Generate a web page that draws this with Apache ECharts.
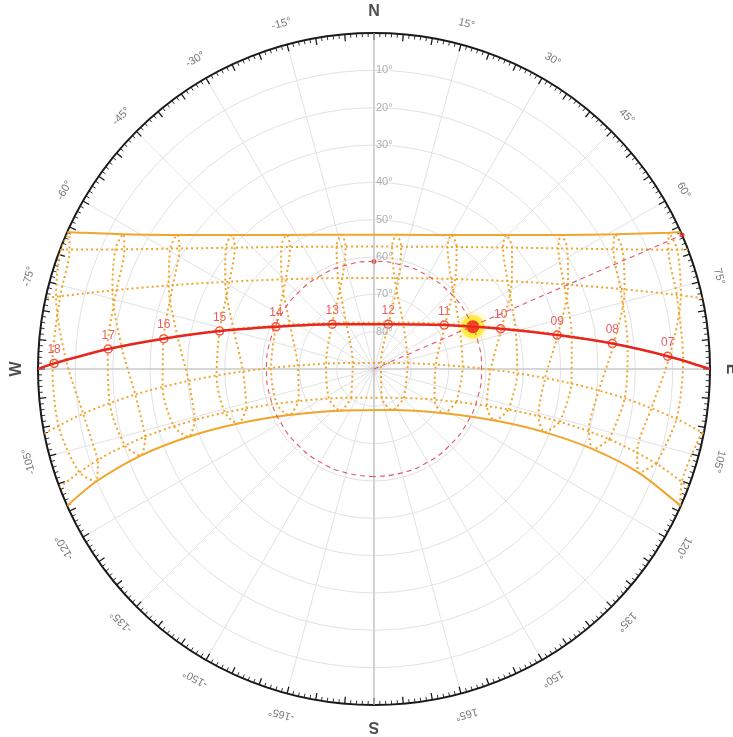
<!DOCTYPE html>
<html><head><meta charset="utf-8">
<script src="https://cdn.jsdelivr.net/npm/echarts@6/dist/echarts.min.js"></script>
<style>html,body{margin:0;padding:0;background:#fff}#c{width:733px;height:737px}</style>
</head><body><div id="c"></div>
<script>
// Sun positions [altitude°, azimuth°] at clock hours 06..18 on the 21st of each month (null = below horizon)
const hourKeys = ['06','07','08','09','10','11','12','13','14','15','16','17','18'];
const janPos = [null,[10.22,108.52],[24.18,106.64],[38.25,105.87],[52.31,106.79],[66.18,111.68],[78.82,133.94],[80.20,-141.71],[68.07,-113.07],[54.28,-107.14],[40.22,-105.87],[26.15,-106.46],[12.16,-108.20]];
const febPos = [null,[7.90,99.38],[22.40,96.67],[36.98,94.20],[51.61,91.68],[66.24,88.44],[80.84,80.3],[84.08,-74.0],[69.55,-87.41],[54.92,-91.05],[40.26,-93.66],[25.70,-96.10],[11.18,-98.73]];
const marPos = [null,[7.18,88.40],[21.79,84.92],[36.32,80.62],[50.63,74.34],[64.29,62.57],[75.35,31.89],[75.50,-31.01],[64.56,-62.20],[50.91,-74.17],[36.61,-80.52],[22.08,-84.84],[7.47,-88.33]];
const aprPos = [null,[6.51,76.24],[20.60,72.00],[34.29,66.00],[47.16,56.65],[58.25,40.58],[65.03,12.77],[63.84,-21.52],[55.54,-45.87],[43.81,-59.64],[30.65,-67.86],[16.84,-73.28],[2.67,-77.19]];
const mayPos = [null,[4.92,67.93],[18.28,63.42],[30.99,56.79],[42.54,46.71],[51.82,31.06],[56.86,8.39],[55.72,-17.01],[48.94,-37.30],[38.69,-50.74],[26.64,-59.42],[13.67,-65.19],[0.16,-69.15]];
const junPos = [null,[2.97,65.20],[16.03,60.82],[28.42,54.33],[39.59,44.60],[48.53,29.99],[53.57,9.52],[53.03,-13.58],[47.15,-33.06],[37.71,-46.66],[26.25,-55.70],[13.72,-61.74],[0.57,-65.82]];
const julPos = [null,[2.70,68.52],[16.13,64.28],[28.98,58.06],[40.77,48.67],[50.52,34.09],[56.42,12.49],[56.34,-13.05],[50.33,-34.50],[40.52,-48.93],[28.70,-58.23],[15.83,-64.39],[2.39,-68.60]];
const augPos = [null,[5.47,76.50],[19.58,72.36],[33.31,66.52],[46.26,57.51],[57.53,42.10],[64.73,15.23],[64.21,-19.23],[56.31,-44.50],[44.75,-58.86],[31.65,-67.37],[17.86,-72.94],[3.72,-76.94]];
const sepPos = [null,[10.79,87.58],[25.39,83.96],[39.87,79.33],[54.08,72.17],[67.42,57.80],[76.90,17.80],[73.37,-42.16],[61.30,-66.12],[47.39,-76.05],[33.03,-81.71],[18.48,-85.75],[3.86,-89.14]];
const octPos = [[0.50,100.95],[14.95,98.02],[29.49,95.46],[44.09,93.01],[58.74,90.27],[73.39,85.89],[87.49,47.8],[77.07,-83.81],[62.43,-89.43],[47.81,-92.36],[33.18,-94.84],[18.62,-97.34],[4.15,-100.16]];
const novPos = [[2.20,110.10],[16.06,107.61],[30.08,106.16],[44.16,105.98],[58.19,108.08],[71.81,116.93],[82.10,164.4],[75.60,-123.52],[62.33,-109.59],[48.40,-106.29],[34.30,-105.95],[20.26,-107.06],[6.34,-109.24]];
const decPos = [[0.19,114.0],[13.71,111.43],[27.41,110.12],[41.17,110.33],[54.80,113.11],[67.86,122.42],[77.96,156.03],[75.70,-141.25],[64.15,-118.48],[50.83,-111.90],[37.14,-110.07],[23.38,-110.37],[9.72,-112.05]];
// sunrise azimuths (sunset = negative)
const riseAz = {jun:65.96, may:69.18, apr:77.81, mar:90, feb:101.07, jan:110.61, dec:114.04};

// Today's path (equinox) with hour markers
const todayHours = ['07','08','09','10','11','12','13','14','15','16','17','18'];
const todayPos = [[11.25,87.5],[25.8,83.9],[40.1,79.5],[54.4,72.4],[67.8,58.0],[77.4,17.6],[73.6,-43.0],[61.4,-66.7],[47.4,-76.2],[33.1,-81.8],[18.6,-85.7],[4.3,-89.0]];
const todayRiseAz = 90;
const sunPos = [61.2, 66.8];
const sunRayAz = 66.5;
const ringAz = [-180,-165,-150,-135,-120,-105,-90,-75,-60,-45,-30,-15,0,15,30,45,60,75,90,105,120,135,150,165,180];

// tick labels
const altTicks = [10,20,30,40,50,60,70,80];
const azTicks = [-165,-150,-135,-120,-105,-90,-75,-60,-45,-30,-15,0,15,30,45,60,75,90,105,120,135,150,165,180];
const cardinal = {'0':'N','90':'E','180':'S','-90':'W'};

const ORANGE = '#f2a52c';
const RED = '#e8251f';
const FONT = 'Liberation Sans, Arial, sans-serif';
const dotted = {color: ORANGE, width: 2, type: [2, 3]};

function dayPath(rise, pts) {
  return [[0, rise]].concat(pts.filter(p => p)).concat([[0, -rise]]);
}
const series = [];
// main axes lines N-S and E-W
series.push({type:'line', coordinateSystem:'polar', polarIndex:0, data:[[0,0],[0,180]], symbol:'none', silent:true,
  lineStyle:{color:'#bdbdbd', width:1.2}});
series.push({type:'line', coordinateSystem:'polar', polarIndex:0, data:[[0,-90],[0,90]], symbol:'none', silent:true,
  lineStyle:{color:'#bdbdbd', width:1.2}});
// dotted day paths
[[riseAz.may, mayPos],[riseAz.apr, aprPos],[riseAz.mar, marPos],[riseAz.feb, febPos],[riseAz.jan, janPos]].forEach(([r, p]) => {
  series.push({type:'line', coordinateSystem:'polar', polarIndex:0, data: dayPath(r, p), symbol:'none', smooth:0.3, silent:true, lineStyle: dotted});
});
// analemmas
const yearPos = [janPos, febPos, marPos, aprPos, mayPos, junPos, julPos, augPos, sepPos, octPos, novPos, decPos];
hourKeys.forEach((h, i) => {
  const pts = yearPos.map(m => m[i]);
  const data = pts.every(p => p) ? pts.concat([pts[0]]) : pts.filter(p => p);
  series.push({type:'line', coordinateSystem:'polar', polarIndex:0, data, symbol:'none', smooth:0.3, silent:true, lineStyle: dotted});
});
// solstice paths
[[riseAz.jun, junPos],[riseAz.dec, decPos]].forEach(([r, p]) => {
  series.push({type:'line', coordinateSystem:'polar', polarIndex:0, data: dayPath(r, p), symbol:'none', smooth:0.3, silent:true,
    lineStyle:{color: ORANGE, width: 2}});
});
// dashed altitude ring and azimuth ray of the sun
series.push({type:'line', coordinateSystem:'polar', polarIndex:0, data: ringAz.map(a => [sunPos[0], a]), symbol:'none', smooth:true, silent:true,
  lineStyle:{color:'#e4566a', width:1.1, type:[5,4]}});
series.push({type:'line', coordinateSystem:'polar', polarIndex:0, data: [[90, sunRayAz],[0, sunRayAz]], symbol:'none', silent:true,
  lineStyle:{color:'#e4566a', width:1.1, type:[5,4]}});
// today's path
series.push({type:'line', coordinateSystem:'polar', polarIndex:0, data: dayPath(todayRiseAz, todayPos), symbol:'none', smooth:0.3, silent:true,
  lineStyle:{color: RED, width: 2.5}});
series.push({type:'scatter', coordinateSystem:'polar', polarIndex:0, symbol:'circle', symbolSize:8, silent:true,
  itemStyle:{color:'#fff', borderColor: RED, borderWidth:1.5},
  data: todayPos.map((p, i) => ({value: p, label:{formatter: todayHours[i]}})),
  label:{show:true, position:'top', distance:3, color:'#e0353d', fontSize:12, fontFamily: FONT}});
// small red markers
series.push({type:'scatter', coordinateSystem:'polar', polarIndex:0, symbolSize:5, silent:true, clip:false,
  itemStyle:{color:'#e02020'}, data:[[0, sunRayAz],[sunPos[0], 0]]});
// sun
series.push({type:'scatter', coordinateSystem:'polar', polarIndex:0, symbolSize:23, silent:true,
  itemStyle:{color:'rgba(255,232,40,0.9)', shadowBlur:6, shadowColor:'rgba(255,220,0,0.9)'}, data:[sunPos]});
series.push({type:'scatter', coordinateSystem:'polar', polarIndex:0, symbolSize:13, silent:true,
  itemStyle:{color:'#ee1010'}, data:[sunPos]});
// altitude labels
series.push({type:'scatter', coordinateSystem:'polar', polarIndex:0, symbolSize:0, silent:true, clip:false,
  data: altTicks.map(a => ({value:[a, 0], label:{formatter: a + '°'}})),
  label:{show:true, position:'right', distance:2, color:'#9a9a9a', fontSize:11, fontFamily: FONT}});
// azimuth labels
series.push({type:'scatter', coordinateSystem:'polar', polarIndex:0, symbolSize:0, silent:true, clip:false,
  data: azTicks.map(a => {
    const c = cardinal[String(a)];
    return {value:[-5.7, a], label:{
      formatter: c || (a + '°'), rotate: -a,
      fontSize: c ? 16 : 11, fontWeight: c ? 'bold' : 'normal', color: c ? '#222' : '#555'}};
  }),
  label:{show:true, position:'inside', fontFamily: FONT}});

const option = {
  animation:false,
  backgroundColor:'#fff',
  polar:[{center:[374,369], radius:336},{center:[374,369], radius:336}],
  angleAxis:[
    {polarIndex:0, type:'value', min:-180, max:180, interval:15, startAngle:270, clockwise:true,
      axisLine:{show:false}, axisTick:{show:false}, axisLabel:{show:false},
      splitLine:{show:true, lineStyle:{color:'#e2e2e2', width:1}}},
    {polarIndex:1, type:'value', min:-180, max:180, interval:5, startAngle:270, clockwise:true,
      axisLine:{show:true, lineStyle:{color:'#1a1a1a', width:2}},
      axisTick:{show:true, inside:true, length:7, lineStyle:{color:'#1a1a1a', width:1.3}},
      minorTick:{show:true, splitNumber:5, length:4, lineStyle:{color:'#333', width:1}},
      axisLabel:{show:false}, splitLine:{show:false}}
  ],
  radiusAxis:[
    {polarIndex:0, type:'value', min:0, max:90, interval:10, inverse:true,
      axisLine:{show:false}, axisTick:{show:false}, axisLabel:{show:false},
      splitLine:{show:true, lineStyle:{color:'#e2e2e2', width:1}}},
    {polarIndex:1, type:'value', min:0, max:90, show:false,
      axisLine:{show:false}, axisTick:{show:false}, axisLabel:{show:false}, splitLine:{show:false}}
  ],
  series
};
const chart = echarts.init(document.getElementById('c'));
chart.setOption(option);
</script></body></html>
